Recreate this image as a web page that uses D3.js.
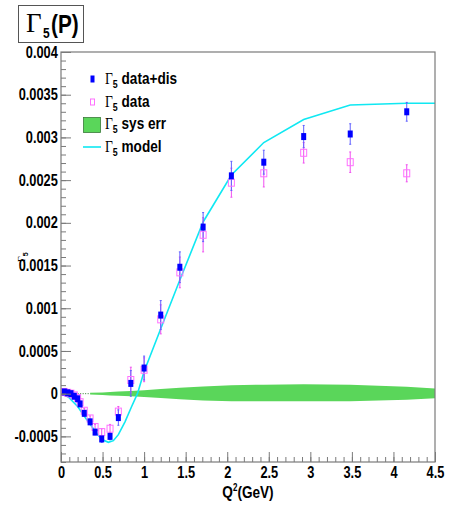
<!DOCTYPE html>
<html><head><meta charset="utf-8">
<script src="https://cdn.jsdelivr.net/npm/d3@7"></script>
<style>body{margin:0;background:#fff}svg{display:block}</style>
</head><body>
<svg id="c" width="452" height="512"></svg>
<script>
// ---- data ----
const q2 = [0.04,0.08,0.12,0.16,0.20,0.23,0.28,0.35,0.41,0.49,0.59,0.69,0.84,1.00,1.20,1.43,1.71,2.05,2.44,2.92,3.48,4.16];
const dataDis = [0.00002,0.00001,0.0,-0.00003,-0.00006,-0.00012,-0.00023,-0.00033,-0.00045,-0.00053,-0.0005,-0.00028,0.00012,0.0003,0.00092,0.00148,0.00195,0.00255,0.00271,0.00301,0.00304,0.0033];
const dataDisErr = [0.00002,0.00002,0.00002,0.00002,0.00002,0.00002,0.00003,0.00003,0.00003,0.00004,0.00004,0.00009,0.00015,0.00014,0.00017,0.00018,0.00017,0.00017,0.00014,0.00013,0.00012,0.00011];
const dataOnly = [0.00002,0.00001,0.0,-0.00002,-0.00005,-0.0001,-0.0002,-0.00029,-0.00039,-0.00045,-0.00041,-0.00021,0.00016,0.00028,0.00087,0.00142,0.00186,0.00247,0.00258,0.00282,0.00271,0.00258];
const dataOnlyErr = [0.00002,0.00002,0.00002,0.00002,0.00002,0.00002,0.00003,0.00003,0.00003,0.00004,0.00005,0.00006,0.00015,0.00014,0.00017,0.00018,0.0002,0.00017,0.00016,0.00012,0.00012,0.0001];
const modelQ2 = [0,0.05,0.1,0.15,0.2,0.25,0.3,0.36,0.43,0.5,0.57,0.63,0.69,0.77,0.85,0.92,1.0,1.2,1.43,1.71,2.05,2.44,2.92,3.48,4.16,4.5];
const modelVal = [0,-0.00002,-0.00005,-0.0001,-0.00015,-0.00022,-0.00029,-0.00037,-0.00047,-0.00054,-0.00057,-0.00055,-0.00048,-0.00033,-0.00015,0.0,0.00026,0.00076,0.00133,0.00201,0.00256,0.00294,0.00321,0.00338,0.0034,0.0034];
const bandQ2 = [0.35,0.5,0.59,0.69,0.84,1.0,1.2,1.43,1.71,2.05,2.44,2.92,3.48,4.16,4.5];
const bandHi = [0.00001,0.000015,0.00002,0.000025,0.00003,0.00004,0.000055,0.00007,0.000085,0.0001,0.000105,0.00011,0.000105,0.00008,0.00006];
const bandLo = [-0.00001,-0.000015,-0.00002,-0.000025,-0.00003,-0.00004,-0.00005,-0.000065,-0.00008,-0.00009,-0.00009,-0.00009,-0.00009,-0.00007,-0.000055];
const xMajor = [0,0.5,1,1.5,2,2.5,3,3.5,4,4.5];
const yMajor = [-0.0005,0,0.0005,0.001,0.0015,0.002,0.0025,0.003,0.0035,0.004];
const yLabels = ["-0.0005","0","0.0005","0.001","0.0015","0.002","0.0025","0.003","0.0035","0.004"];
const legendLabels = [" data+dis"," data"," sys err"," model"];

// ---- layout ----
const L=61,R=435,T=52,B=462;
const x=d3.scaleLinear().domain([0,4.5]).range([L,R]);
const y=d3.scaleLinear().domain([-0.0008,0.004]).range([B,T]);
const svg=d3.select("#c");
const SX=0.8;
const gray="#7a7a7a";
const sans="'Liberation Sans', Arial, sans-serif";
const serif="'Liberation Serif', 'Times New Roman', serif";

svg.append("clipPath").attr("id","clip").append("rect").attr("x",L).attr("y",T).attr("width",R-L).attr("height",B-T);
const plot=svg.append("g").attr("clip-path","url(#clip)");

// band
plot.append("path").datum(bandQ2.map((d,i)=>[d,bandLo[i],bandHi[i]]))
  .attr("fill","#5ad65a")
  .attr("d",d3.area().x(d=>x(d[0])).y0(d=>y(d[1])).y1(d=>y(d[2])));
plot.append("line").attr("x1",x(0.02)).attr("x2",x(0.35)).attr("y1",y(0)).attr("y2",y(0))
  .attr("stroke","#2f7a2f").attr("stroke-width",1).attr("stroke-dasharray","1,1.5");

// model
plot.append("path").datum(modelQ2.map((d,i)=>[d,modelVal[i]]))
  .attr("fill","none").attr("stroke","#10e8f2").attr("stroke-width",1.6)
  .attr("d",d3.line().x(d=>x(d[0])).y(d=>y(d[1])));

// error bars
function errs(vals,err,color){
  const g=plot.append("g");
  q2.forEach((q,i)=>{
    const xx=x(q), y1=y(vals[i]+err[i]), y0=y(vals[i]-err[i]);
    g.append("line").attr("x1",xx).attr("x2",xx).attr("y1",y1).attr("y2",y0).attr("stroke",color).attr("stroke-width",1);
    g.append("line").attr("x1",xx-1).attr("x2",xx+1).attr("y1",y1).attr("y2",y1).attr("stroke",color).attr("stroke-width",1);
    g.append("line").attr("x1",xx-1).attr("x2",xx+1).attr("y1",y0).attr("y2",y0).attr("stroke",color).attr("stroke-width",1);
  });
}
errs(dataOnly,dataOnlyErr,"#f050f0");
errs(dataDis,dataDisErr,"#6060ff");

// markers
plot.append("g").selectAll("rect").data(q2).join("rect")
  .attr("x",(d)=>x(d)-3).attr("y",(d,i)=>y(dataOnly[i])-3.5).attr("width",6).attr("height",7)
  .attr("fill","none").attr("stroke","#ff70ff").attr("stroke-width",1);
plot.append("g").selectAll("rect").data(q2).join("rect")
  .attr("x",(d)=>x(d)-2.5).attr("y",(d,i)=>y(dataDis[i])-3.5).attr("width",5).attr("height",7)
  .attr("fill","#0000ff");

// axes ticks
function styleAxis(g){
  g.select(".domain").remove();
  g.selectAll("line").attr("stroke",gray);
  g.selectAll("text").attr("font-family",sans).attr("font-weight","bold").attr("font-size","16px").attr("fill","#000")
   .attr("transform",`scale(${SX},1)`);
}
const xMinor=d3.range(0,4.501,0.1);
const yMinor=d3.range(-0.0008,0.00401,0.0001);
svg.append("g").attr("transform",`translate(0,${B})`).call(d3.axisBottom(x).tickValues(xMinor).tickSize(-5).tickFormat("")).call(styleAxis);
svg.append("g").attr("transform",`translate(0,${B})`).call(d3.axisBottom(x).tickValues(xMajor).tickSize(-10).tickPadding(5).tickFormat(d=>String(d))).call(styleAxis);
svg.append("g").attr("transform",`translate(0,${B})`).selectAll("text").attr("y",6);
svg.append("g").attr("transform",`translate(${L},0)`).call(d3.axisLeft(y).tickValues(yMinor).tickSize(-5).tickFormat("")).call(styleAxis);
svg.append("g").attr("transform",`translate(${L},0)`).call(d3.axisLeft(y).tickValues(yMajor).tickSize(-10).tickPadding(4).tickFormat((d,i)=>yLabels[i])).call(styleAxis);

// frame
svg.append("rect").attr("x",L).attr("y",T).attr("width",R-L).attr("height",B-T).attr("fill","none").attr("stroke",gray).attr("stroke-width",1.2);

// axis titles
const xt=svg.append("text").attr("transform",`translate(248,498) scale(${SX},1)`).attr("text-anchor","middle")
  .attr("font-family",sans).attr("font-weight","bold").attr("font-size","17px");
xt.append("tspan").text("Q");
xt.append("tspan").attr("font-size","10px").attr("dy","-7").text("2");
xt.append("tspan").attr("dy","7").text("(GeV)");

const yt=svg.append("text").attr("transform","translate(25,262) rotate(-90)").attr("font-size","10px");
yt.append("tspan").attr("font-family",serif).text("Γ");
yt.append("tspan").attr("font-family",sans).attr("font-weight","bold").attr("font-size","7px").attr("dy","3").text("5");

// title box
svg.append("rect").attr("x",18.5).attr("y",5.5).attr("width",65).attr("height",37).attr("fill","#fff").attr("stroke","#555").attr("stroke-width",1);
svg.append("text").attr("x",26).attr("y",32).attr("font-family",serif).attr("font-size","27px").text("Γ");
svg.append("text").attr("transform",`translate(43,38) scale(${SX},1)`).attr("font-family",sans).attr("font-weight","bold").attr("font-size","15px").text("5");
svg.append("text").attr("transform",`translate(51,33) scale(${SX},1)`).attr("font-family",sans).attr("font-weight","bold").attr("font-size","26px").text("(P)");

// legend
const rows=[79,102,124,147];
const lg=svg.append("g");
lg.append("rect").attr("x",90.5).attr("y",rows[0]-3.5).attr("width",4).attr("height",7).attr("fill","#0000ff");
lg.append("rect").attr("x",90.5).attr("y",rows[1]-3).attr("width",4).attr("height",6).attr("fill","none").attr("stroke","#ff70ff");
lg.append("rect").attr("x",83.5).attr("y",rows[2]-6.5).attr("width",17).attr("height",15).attr("fill","#5ad65a").attr("stroke","#3a7a3a").attr("stroke-width",0.8);
lg.append("line").attr("x1",83).attr("x2",101).attr("y1",rows[3]).attr("y2",rows[3]).attr("stroke","#10e8f2").attr("stroke-width",1.6);
legendLabels.forEach((s,i)=>{
  const t=lg.append("text").attr("transform",`translate(105,${rows[i]+5}) scale(${SX},1)`);
  t.append("tspan").attr("font-family",serif).attr("font-size","17px").text("Γ");
  t.append("tspan").attr("font-family",sans).attr("font-weight","bold").attr("font-size","11px").attr("dy","4").text("5");
  t.append("tspan").attr("font-family",sans).attr("font-weight","bold").attr("font-size","17px").attr("dy","-4").text(s);
});
</script>
</body></html>
